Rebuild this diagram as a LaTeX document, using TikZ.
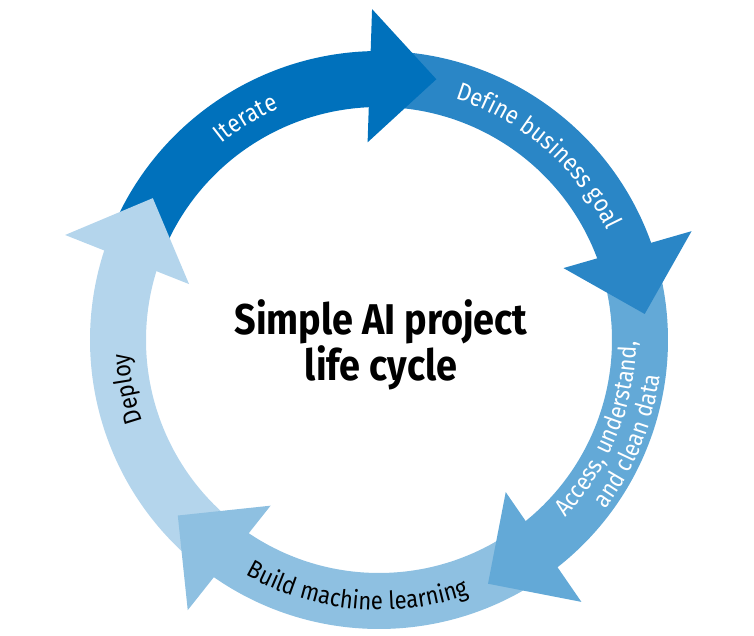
\documentclass[tikz,border=0pt]{standalone}
\usepackage{fontspec}
\setmainfont{Fira Sans}[FakeStretch=0.88]
\usetikzlibrary{decorations.text}

\definecolor{iterblue}{HTML}{0071BC}
\definecolor{goalblue}{HTML}{2A86C6}
\definecolor{datablue}{HTML}{63A9D7}
\definecolor{buildblue}{HTML}{8EC0E1}
\definecolor{deployblue}{HTML}{B4D5EC}

\newcommand{\lblfont}{\fontsize{25}{25}\selectfont}
\newcommand{\smlfont}{\fontsize{24.5}{24.5}\selectfont}

\tikzset{
    ringtext/.style={decorate, decoration={text along path, text align=center, text={#1}}}
}

\begin{document}
\begin{tikzpicture}[x=1pt, y=1pt]
    \useasboundingbox (-379,-295) rectangle (375,340);

    % Ring segments, each starting under the previous head
    \foreach \s/\e/\c in {158.5/89.2/iterblue, 88.2/17.2/goalblue, 16.2/-54.3/datablue,
                          -55.3/-127.3/buildblue, -128.3/-200.5/deployblue} {
        \fill[\c] (\s:233) arc[start angle=\s, end angle=\e, radius=233]
            -- (\e:289) arc[start angle=\e, end angle=\s, radius=289] -- cycle;
    }

    % Arrow heads
    \foreach \a/\c in {91.2/iterblue, 19.2/goalblue, -52.3/datablue,
                       -125.3/buildblue, -198.5/deployblue} {
        \fill[\c] ({\a+2.1}:198) -- (\a:331) -- ({\a-13.6}:267) -- cycle;
    }

    % Title
    \node[font=\bfseries\fontsize{43}{42}\selectfont, align=center] (title) at (2,-5)
        {Simple AI project\\life cycle};

    % Labels along the ring
    \path[ringtext={|\color{white}\lblfont|Iterate}]
        (161:252) arc[start angle=161, end angle=81, radius=252];
    \path[ringtext={|\color{white}\lblfont|Define business goal}]
        (99:253) arc[start angle=99, end angle=-1, radius=253];
    \path[ringtext={|\color{white}\smlfont|Access, understand,}]
        (-62:257) arc[start angle=-62, end angle=18, radius=257];
    \path[ringtext={|\color{white}\smlfont|and clean data}]
        (-62:283) arc[start angle=-62, end angle=18, radius=283];
    \path[ringtext={|\color{black}\lblfont|Build machine learning}]
        (-145:270) arc[start angle=-145, end angle=-45, radius=270];
    \path[ringtext={|\color{black}\lblfont|Deploy}]
        (231:250) arc[start angle=231, end angle=151, radius=250];
\end{tikzpicture}
\end{document}
